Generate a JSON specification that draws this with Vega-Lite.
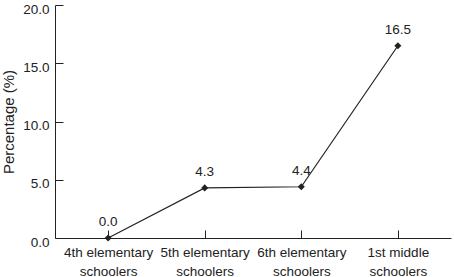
{
  "$schema": "https://vega.github.io/schema/vega-lite/v6.json",
  "autosize": "none",
  "padding": {"left": 55, "top": 5, "right": 3, "bottom": 39},
  "width": 396,
  "height": 233,
  "background": "white",
  "config": {
    "view": {"stroke": null},
    "font": "Liberation Sans",
    "axis": {
      "domainColor": "#222",
      "tickColor": "#222",
      "labelColor": "#222",
      "titleColor": "#222",
      "labelFont": "Liberation Sans",
      "titleFont": "Liberation Sans",
      "labelFontSize": 13.5,
      "grid": false
    }
  },
  "data": {
    "values": [
      {"group": "4th elementary|schoolers", "pct": 0.0},
      {"group": "5th elementary|schoolers", "pct": 4.3},
      {"group": "6th elementary|schoolers", "pct": 4.4},
      {"group": "1st middle|schoolers", "pct": 16.5}
    ]
  },
  "encoding": {
    "x": {
      "field": "group",
      "type": "nominal",
      "sort": null,
      "scale": {"type": "point", "padding": 0.55},
      "axis": {
        "title": null,
        "labelAngle": 0,
        "tickSize": -8,
        "labelPadding": 15,
        "labelExpr": "split(datum.value, '|')",
        "labelLineHeight": 19,
        "labelBaseline": "top"
      }
    },
    "y": {
      "field": "pct",
      "type": "quantitative",
      "scale": {"domain": [0, 20], "nice": false},
      "axis": {
        "title": "Percentage (%)",
        "titleFontSize": 15,
        "titleFontWeight": "normal",
        "values": [0, 5, 10, 15, 20],
        "format": ".1f",
        "tickSize": -8,
        "labelPadding": 14,
        "labelOffset": 4,
        "titlePadding": 6
      }
    }
  },
  "layer": [
    {"mark": {"type": "line", "color": "#222", "strokeWidth": 1.2}},
    {"mark": {"type": "point", "shape": "diamond", "filled": true, "color": "#222", "size": 50, "opacity": 1}},
    {
      "mark": {"type": "text", "dy": -16, "fontSize": 13.5, "color": "#222", "baseline": "middle", "font": "Liberation Sans"},
      "encoding": {"text": {"field": "pct", "type": "quantitative", "format": ".1f"}}
    }
  ]
}
